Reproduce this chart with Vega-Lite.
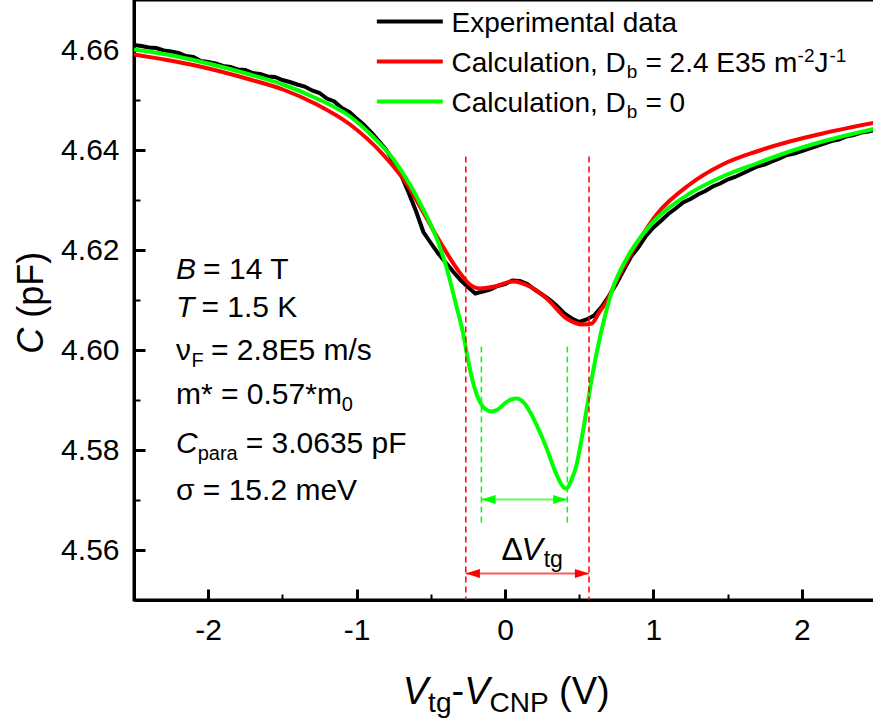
{
  "$schema": "https://vega.github.io/schema/vega-lite/v6.json",
  "width": 742,
  "height": 600,
  "autosize": "none",
  "padding": {"left": 134, "top": 0, "right": 0, "bottom": 119},
  "config": {
    "view": {"stroke": "black", "strokeWidth": 3},
    "font": "Liberation Sans",
    "axis": {"grid": false}
  },
  "resolve": {"axis": {"x": "independent", "y": "independent"}},
  "datasets": {
    "curves": [
      {"s":"exp","x":-2.5,"C":4.6610},{"s":"exp","x":-2.45,"C":4.6608},{"s":"exp","x":-2.4,"C":4.6605},{"s":"exp","x":-2.35,"C":4.6604},{"s":"exp","x":-2.3,"C":4.6599},{"s":"exp","x":-2.25,"C":4.6597},{"s":"exp","x":-2.2,"C":4.6594},{"s":"exp","x":-2.15,"C":4.6588},{"s":"exp","x":-2.1,"C":4.6586},{"s":"exp","x":-2.05,"C":4.6578},{"s":"exp","x":-2.0,"C":4.6576},{"s":"exp","x":-1.95,"C":4.6573},{"s":"exp","x":-1.9,"C":4.6568},{"s":"exp","x":-1.85,"C":4.6566},{"s":"exp","x":-1.8,"C":4.6561},{"s":"exp","x":-1.75,"C":4.6560},{"s":"exp","x":-1.7,"C":4.6554},{"s":"exp","x":-1.65,"C":4.6552},{"s":"exp","x":-1.6,"C":4.6547},{"s":"exp","x":-1.55,"C":4.6546},{"s":"exp","x":-1.5,"C":4.6540},{"s":"exp","x":-1.45,"C":4.6536},{"s":"exp","x":-1.4,"C":4.6531},{"s":"exp","x":-1.35,"C":4.6527},{"s":"exp","x":-1.3,"C":4.6519},{"s":"exp","x":-1.25,"C":4.6514},{"s":"exp","x":-1.2,"C":4.6503},{"s":"exp","x":-1.15,"C":4.6497},{"s":"exp","x":-1.1,"C":4.6484},{"s":"exp","x":-1.05,"C":4.6476},{"s":"exp","x":-1.0,"C":4.6463},{"s":"exp","x":-0.95,"C":4.6450},{"s":"exp","x":-0.9,"C":4.6435},{"s":"exp","x":-0.85,"C":4.6418},{"s":"exp","x":-0.8,"C":4.6400},{"s":"exp","x":-0.75,"C":4.6376},{"s":"exp","x":-0.7,"C":4.6350},{"s":"exp","x":-0.65,"C":4.6315},{"s":"exp","x":-0.6,"C":4.6278},{"s":"exp","x":-0.55,"C":4.6236},{"s":"exp","x":-0.5,"C":4.6214},{"s":"exp","x":-0.45,"C":4.6193},{"s":"exp","x":-0.4,"C":4.6175},{"s":"exp","x":-0.35,"C":4.6157},{"s":"exp","x":-0.3,"C":4.6140},{"s":"exp","x":-0.25,"C":4.6126},{"s":"exp","x":-0.2,"C":4.6113},{"s":"exp","x":-0.15,"C":4.6117},{"s":"exp","x":-0.1,"C":4.6121},{"s":"exp","x":-0.05,"C":4.6128},{"s":"exp","x":0.0,"C":4.6132},{"s":"exp","x":0.05,"C":4.6139},{"s":"exp","x":0.1,"C":4.6138},{"s":"exp","x":0.15,"C":4.6132},{"s":"exp","x":0.2,"C":4.6121},{"s":"exp","x":0.25,"C":4.6111},{"s":"exp","x":0.3,"C":4.6101},{"s":"exp","x":0.35,"C":4.6088},{"s":"exp","x":0.4,"C":4.6073},{"s":"exp","x":0.45,"C":4.6063},{"s":"exp","x":0.5,"C":4.6056},{"s":"exp","x":0.55,"C":4.6061},{"s":"exp","x":0.6,"C":4.6069},{"s":"exp","x":0.65,"C":4.6086},{"s":"exp","x":0.7,"C":4.6108},{"s":"exp","x":0.75,"C":4.6132},{"s":"exp","x":0.8,"C":4.6160},{"s":"exp","x":0.85,"C":4.6187},{"s":"exp","x":0.9,"C":4.6206},{"s":"exp","x":0.95,"C":4.6228},{"s":"exp","x":1.0,"C":4.6245},{"s":"exp","x":1.05,"C":4.6258},{"s":"exp","x":1.1,"C":4.6272},{"s":"exp","x":1.15,"C":4.6283},{"s":"exp","x":1.2,"C":4.6295},{"s":"exp","x":1.25,"C":4.6302},{"s":"exp","x":1.3,"C":4.6311},{"s":"exp","x":1.35,"C":4.6318},{"s":"exp","x":1.4,"C":4.6327},{"s":"exp","x":1.45,"C":4.6333},{"s":"exp","x":1.5,"C":4.6341},{"s":"exp","x":1.55,"C":4.6346},{"s":"exp","x":1.6,"C":4.6353},{"s":"exp","x":1.65,"C":4.6360},{"s":"exp","x":1.7,"C":4.6367},{"s":"exp","x":1.75,"C":4.6371},{"s":"exp","x":1.8,"C":4.6377},{"s":"exp","x":1.85,"C":4.6383},{"s":"exp","x":1.9,"C":4.6390},{"s":"exp","x":1.95,"C":4.6393},{"s":"exp","x":2.0,"C":4.6398},{"s":"exp","x":2.05,"C":4.6403},{"s":"exp","x":2.1,"C":4.6408},{"s":"exp","x":2.15,"C":4.6413},{"s":"exp","x":2.2,"C":4.6418},{"s":"exp","x":2.25,"C":4.6421},{"s":"exp","x":2.3,"C":4.6427},{"s":"exp","x":2.35,"C":4.6430},{"s":"exp","x":2.4,"C":4.6435},{"s":"exp","x":2.45,"C":4.6437},{"s":"exp","x":2.5,"C":4.6441},
      {"s":"db","x":-2.5,"C":4.6591},{"s":"db","x":-2.278,"C":4.6580},{"s":"db","x":-2.056,"C":4.6567},{"s":"db","x":-1.719,"C":4.6541},{"s":"db","x":-1.497,"C":4.6521},{"s":"db","x":-1.268,"C":4.6491},{"s":"db","x":-1.044,"C":4.6451},{"s":"db","x":-0.822,"C":4.6391},{"s":"db","x":-0.66,"C":4.6331},{"s":"db","x":-0.554,"C":4.6277},{"s":"db","x":-0.439,"C":4.6217},{"s":"db","x":-0.325,"C":4.6163},{"s":"db","x":-0.237,"C":4.6131},{"s":"db","x":-0.17,"C":4.6123},{"s":"db","x":-0.069,"C":4.6127},{"s":"db","x":0.052,"C":4.6137},{"s":"db","x":0.167,"C":4.6127},{"s":"db","x":0.281,"C":4.6103},{"s":"db","x":0.416,"C":4.6063},{"s":"db","x":0.524,"C":4.6051},{"s":"db","x":0.584,"C":4.6053},{"s":"db","x":0.638,"C":4.6077},{"s":"db","x":0.685,"C":4.6097},{"s":"db","x":0.739,"C":4.6131},{"s":"db","x":0.82,"C":4.6177},{"s":"db","x":0.907,"C":4.6221},{"s":"db","x":1.022,"C":4.6271},{"s":"db","x":1.244,"C":4.6331},{"s":"db","x":1.466,"C":4.6371},{"s":"db","x":1.695,"C":4.6397},{"s":"db","x":1.918,"C":4.6417},{"s":"db","x":2.14,"C":4.6433},{"s":"db","x":2.5,"C":4.6455},
      {"s":"d0","x":-2.5,"C":4.6601},{"s":"d0","x":-2.278,"C":4.6591},{"s":"d0","x":-2.056,"C":4.6577},{"s":"d0","x":-1.719,"C":4.6551},{"s":"d0","x":-1.497,"C":4.6531},{"s":"d0","x":-1.268,"C":4.6503},{"s":"d0","x":-1.044,"C":4.6467},{"s":"d0","x":-0.891,"C":4.6427},{"s":"d0","x":-0.756,"C":4.6383},{"s":"d0","x":-0.641,"C":4.6331},{"s":"d0","x":-0.554,"C":4.6283},{"s":"d0","x":-0.46,"C":4.6223},{"s":"d0","x":-0.392,"C":4.6163},{"s":"d0","x":-0.352,"C":4.6117},{"s":"d0","x":-0.318,"C":4.6077},{"s":"d0","x":-0.285,"C":4.6037},{"s":"d0","x":-0.251,"C":4.5983},{"s":"d0","x":-0.217,"C":4.5937},{"s":"d0","x":-0.183,"C":4.5905},{"s":"d0","x":-0.15,"C":4.5887},{"s":"d0","x":-0.116,"C":4.5879},{"s":"d0","x":-0.089,"C":4.5877},{"s":"d0","x":-0.049,"C":4.5881},{"s":"d0","x":-0.002,"C":4.5893},{"s":"d0","x":0.039,"C":4.5901},{"s":"d0","x":0.079,"C":4.5903},{"s":"d0","x":0.126,"C":4.5895},{"s":"d0","x":0.167,"C":4.5877},{"s":"d0","x":0.227,"C":4.5841},{"s":"d0","x":0.281,"C":4.5803},{"s":"d0","x":0.328,"C":4.5765},{"s":"d0","x":0.369,"C":4.5737},{"s":"d0","x":0.396,"C":4.5725},{"s":"d0","x":0.416,"C":4.5723},{"s":"d0","x":0.443,"C":4.5737},{"s":"d0","x":0.483,"C":4.5771},{"s":"d0","x":0.517,"C":4.5823},{"s":"d0","x":0.551,"C":4.5883},{"s":"d0","x":0.591,"C":4.5953},{"s":"d0","x":0.638,"C":4.6023},{"s":"d0","x":0.685,"C":4.6081},{"s":"d0","x":0.726,"C":4.6123},{"s":"d0","x":0.82,"C":4.6183},{"s":"d0","x":0.907,"C":4.6223},{"s":"d0","x":1.022,"C":4.6263},{"s":"d0","x":1.244,"C":4.6313},{"s":"d0","x":1.466,"C":4.6347},{"s":"d0","x":1.695,"C":4.6373},{"s":"d0","x":1.918,"C":4.6397},{"s":"d0","x":2.14,"C":4.6417},{"s":"d0","x":2.497,"C":4.6443}
    ],
    "legendLines": [
      {"s":"exp","x1":-0.8636,"x2":-0.4192,"y":4.6657},
      {"s":"db","x1":-0.8636,"x2":-0.4192,"y":4.6577},
      {"s":"d0","x1":-0.8636,"x2":-0.4192,"y":4.6497}
    ],
    "vlines": [
      {"s":"db","x":-0.264,"y1":4.6387,"y2":4.55},
      {"s":"db","x":0.566,"y1":4.6387,"y2":4.55},
      {"s":"d0","x":-0.159,"y1":4.6007,"y2":4.5653},
      {"s":"d0","x":0.42,"y1":4.6007,"y2":4.5653}
    ],
    "shafts": [
      {"s":"d0","x1":-0.159,"x2":0.42,"y":4.5701},
      {"s":"db","x1":-0.264,"x2":0.566,"y":4.5553}
    ],
    "headsLeft": [
      {"s":"d0","x":-0.1114,"y":4.5701},
      {"s":"db","x":-0.2164,"y":4.5553}
    ],
    "headsRight": [
      {"s":"d0","x":0.3724,"y":4.5701},
      {"s":"db","x":0.5184,"y":4.5553}
    ],
    "txtLegend": [
      {"x":-0.3606,"y":4.66366,"t":"Experimental data"},
      {"x":-0.3606,"y":4.65566,"t":"Calculation, D"},
      {"x":0.9467,"y":4.65566,"t":"= 2.4 E35 m"},
      {"x":2.0859,"y":4.65566,"t":"J"},
      {"x":-0.3606,"y":4.64766,"t":"Calculation, D"},
      {"x":0.9467,"y":4.64766,"t":"= 0"}
    ],
    "txtNormal": [
      {"x":-2.0342,"y":4.61426,"t":"= 14 T"},
      {"x":-2.0459,"y":4.60666,"t":"= 1.5 K"},
      {"x":-2.2171,"y":4.59806,"t":"ν"},
      {"x":-1.9815,"y":4.59806,"t":"= 2.8E5 m/s"},
      {"x":-2.2171,"y":4.58926,"t":"m* = 0.57*m"},
      {"x":-1.7475,"y":4.57946,"t":"= 3.0635 pF"},
      {"x":-2.2171,"y":4.57006,"t":"σ = 15.2 meV"}
    ],
    "txtItalic": [
      {"x":-2.2171,"y":4.61426,"t":"B"},
      {"x":-2.2171,"y":4.60666,"t":"T"},
      {"x":-2.2171,"y":4.57946,"t":"C"}
    ],
    "txtSmall": [
      {"x":-2.1121,"y":4.59666,"t":"F"},
      {"x":-1.1,"y":4.58786,"t":"0"},
      {"x":-2.0712,"y":4.57806,"t":"para"}
    ],
    "txtLegendSmall": [
      {"x":0.8199,"y":4.65446,"t":"b"},
      {"x":0.8199,"y":4.64646,"t":"b"},
      {"x":1.9714,"y":4.65766,"t":"-2"},
      {"x":2.1869,"y":4.65766,"t":"-1"}
    ],
    "deltaNormal": [
      {"x":-0.0239,"y":4.55806,"t":"Δ"}
    ],
    "deltaItalic": [
      {"x":0.1108,"y":4.55806,"t":"V"}
    ],
    "deltaSub": [
      {"x":0.2605,"y":4.55666,"t":"tg"}
    ],
    "titleNormal": [
      {"x":-0.3606,"y":4.52926,"t":"-"},
      {"x":0.3645,"y":4.52926,"t":"(V)"}
    ],
    "titleItalic": [
      {"x":-0.6886,"y":4.52926,"t":"V"},
      {"x":-0.2751,"y":4.52926,"t":"V"}
    ],
    "titleSub": [
      {"x":-0.5182,"y":4.52766,"t":"tg"},
      {"x":-0.1047,"y":4.52766,"t":"CNP"}
    ],
    "yTitleItalic": [
      {"x":-3.1128,"y":4.59926,"t":"C"}
    ],
    "yTitleNormal": [
      {"x":-3.1128,"y":4.60646,"t":"(pF)"}
    ]
  },
  "layer": [
    {
      "data": {"name": "curves"},
      "transform": [{"filter": "datum.s === 'exp'"}],
      "mark": {"type": "line", "strokeWidth": 4, "clip": true},
      "encoding": {
        "x": {"field": "x", "type": "quantitative",
          "scale": {"domain": [-2.5, 2.5], "nice": false, "zero": false},
          "axis": {
            "orient": "bottom",
            "values": [-2, -1, 0, 1, 2],
            "labelExpr": "'' + datum.value",
            "title": null,
            "domainColor": "black", "domainWidth": 3,
            "tickColor": "black", "tickSize": -11, "tickWidth": 3,
            "labelFont": "Liberation Sans", "labelFontSize": 30, "labelColor": "black",
            "labelPadding": 26, "labelFlush": false, "labelOverlap": false
          }},
        "y": {"field": "C", "type": "quantitative",
          "scale": {"domain": [4.55, 4.67], "nice": false, "zero": false},
          "axis": {
            "orient": "left",
            "values": [4.56, 4.58, 4.60, 4.62, 4.64, 4.66],
            "format": ".2f",
            "title": null,
            "domainColor": "black", "domainWidth": 3,
            "tickColor": "black", "tickSize": -11, "tickWidth": 3,
            "labelFont": "Liberation Sans", "labelFontSize": 30, "labelColor": "black",
            "labelPadding": 26, "labelFlush": false, "labelOverlap": false
          }},
        "color": {"field": "s", "type": "nominal", "legend": null,
          "scale": {"domain": ["exp", "db", "d0"], "range": ["#000000", "#ff0000", "#00ff00"]}}
      }
    },
    {
      "data": {"name": "curves"},
      "transform": [{"filter": "datum.s === 'db'"}],
      "mark": {"type": "line", "strokeWidth": 4, "interpolate": "monotone", "clip": true},
      "encoding": {
        "x": {"field": "x", "type": "quantitative", "scale": {"domain": [-2.5, 2.5], "nice": false, "zero": false},
          "axis": {
            "orient": "bottom",
            "values": [-1.5, -0.5, 0.5, 1.5],
            "labels": false, "domain": false, "title": null,
            "tickColor": "black", "tickSize": -6, "tickWidth": 2
          }},
        "y": {"field": "C", "type": "quantitative", "scale": {"domain": [4.55, 4.67], "nice": false, "zero": false},
          "axis": {
            "orient": "left",
            "values": [4.57, 4.59, 4.61, 4.63, 4.65],
            "labels": false, "domain": false, "title": null,
            "tickColor": "black", "tickSize": -6, "tickWidth": 2
          }},
        "color": {"field": "s", "type": "nominal", "legend": null}
      }
    },
    {
      "data": {"name": "curves"},
      "transform": [{"filter": "datum.s === 'd0'"}],
      "mark": {"type": "line", "strokeWidth": 4, "interpolate": "monotone", "clip": true},
      "encoding": {
        "x": {"field": "x", "type": "quantitative", "scale": {"domain": [-2.5, 2.5], "nice": false, "zero": false}, "axis": null},
        "y": {"field": "C", "type": "quantitative", "scale": {"domain": [4.55, 4.67], "nice": false, "zero": false}, "axis": null},
        "color": {"field": "s", "type": "nominal", "legend": null}
      }
    },
    {
      "data": {"name": "vlines"},
      "mark": {"type": "rule", "strokeWidth": 1.5, "strokeDash": [6, 4]},
      "encoding": {
        "x": {"field": "x", "type": "quantitative", "scale": {"domain": [-2.5, 2.5], "nice": false, "zero": false}, "axis": null},
        "y": {"field": "y1", "type": "quantitative", "scale": {"domain": [4.55, 4.67], "nice": false, "zero": false}, "axis": null},
        "y2": {"field": "y2"},
        "color": {"field": "s", "type": "nominal", "legend": null}
      }
    },
    {
      "data": {"name": "shafts"},
      "mark": {"type": "rule", "strokeWidth": 2, "opacity": 0.65},
      "encoding": {
        "x": {"field": "x1", "type": "quantitative", "scale": {"domain": [-2.5, 2.5], "nice": false, "zero": false}, "axis": null},
        "x2": {"field": "x2"},
        "y": {"field": "y", "type": "quantitative", "scale": {"domain": [4.55, 4.67], "nice": false, "zero": false}, "axis": null},
        "color": {"field": "s", "type": "nominal", "legend": null}
      }
    },
    {
      "data": {"name": "headsLeft"},
      "mark": {"type": "point", "filled": true, "opacity": 1, "size": 200, "shape": "M -1 0 L 1 -0.65 L 1 0.65 Z"},
      "encoding": {
        "x": {"field": "x", "type": "quantitative", "scale": {"domain": [-2.5, 2.5], "nice": false, "zero": false}, "axis": null},
        "y": {"field": "y", "type": "quantitative", "scale": {"domain": [4.55, 4.67], "nice": false, "zero": false}, "axis": null},
        "color": {"field": "s", "type": "nominal", "legend": null}
      }
    },
    {
      "data": {"name": "headsRight"},
      "mark": {"type": "point", "filled": true, "opacity": 1, "size": 200, "shape": "M 1 0 L -1 -0.65 L -1 0.65 Z"},
      "encoding": {
        "x": {"field": "x", "type": "quantitative", "scale": {"domain": [-2.5, 2.5], "nice": false, "zero": false}, "axis": null},
        "y": {"field": "y", "type": "quantitative", "scale": {"domain": [4.55, 4.67], "nice": false, "zero": false}, "axis": null},
        "color": {"field": "s", "type": "nominal", "legend": null}
      }
    },
    {
      "data": {"name": "legendLines"},
      "mark": {"type": "rule", "strokeWidth": 4},
      "encoding": {
        "x": {"field": "x1", "type": "quantitative", "scale": {"domain": [-2.5, 2.5], "nice": false, "zero": false}, "axis": null},
        "x2": {"field": "x2"},
        "y": {"field": "y", "type": "quantitative", "scale": {"domain": [4.55, 4.67], "nice": false, "zero": false}, "axis": null},
        "color": {"field": "s", "type": "nominal", "legend": null}
      }
    },
    {
      "data": {"name": "txtLegend"},
      "mark": {"type": "text", "align": "left", "baseline": "alphabetic", "font": "Liberation Sans", "fontSize": 28, "color": "black"},
      "encoding": {
        "x": {"field": "x", "type": "quantitative", "scale": {"domain": [-2.5, 2.5], "nice": false, "zero": false}, "axis": null},
        "y": {"field": "y", "type": "quantitative", "scale": {"domain": [4.55, 4.67], "nice": false, "zero": false}, "axis": null},
        "text": {"field": "t"}
      }
    },
    {
      "data": {"name": "txtLegendSmall"},
      "mark": {"type": "text", "align": "left", "baseline": "alphabetic", "font": "Liberation Sans", "fontSize": 19, "color": "black"},
      "encoding": {
        "x": {"field": "x", "type": "quantitative", "scale": {"domain": [-2.5, 2.5], "nice": false, "zero": false}, "axis": null},
        "y": {"field": "y", "type": "quantitative", "scale": {"domain": [4.55, 4.67], "nice": false, "zero": false}, "axis": null},
        "text": {"field": "t"}
      }
    },
    {
      "data": {"name": "txtNormal"},
      "mark": {"type": "text", "align": "left", "baseline": "alphabetic", "font": "Liberation Sans", "fontSize": 30, "color": "black"},
      "encoding": {
        "x": {"field": "x", "type": "quantitative", "scale": {"domain": [-2.5, 2.5], "nice": false, "zero": false}, "axis": null},
        "y": {"field": "y", "type": "quantitative", "scale": {"domain": [4.55, 4.67], "nice": false, "zero": false}, "axis": null},
        "text": {"field": "t"}
      }
    },
    {
      "data": {"name": "txtItalic"},
      "mark": {"type": "text", "align": "left", "baseline": "alphabetic", "font": "Liberation Sans", "fontSize": 30, "fontStyle": "italic", "color": "black"},
      "encoding": {
        "x": {"field": "x", "type": "quantitative", "scale": {"domain": [-2.5, 2.5], "nice": false, "zero": false}, "axis": null},
        "y": {"field": "y", "type": "quantitative", "scale": {"domain": [4.55, 4.67], "nice": false, "zero": false}, "axis": null},
        "text": {"field": "t"}
      }
    },
    {
      "data": {"name": "txtSmall"},
      "mark": {"type": "text", "align": "left", "baseline": "alphabetic", "font": "Liberation Sans", "fontSize": 20, "color": "black"},
      "encoding": {
        "x": {"field": "x", "type": "quantitative", "scale": {"domain": [-2.5, 2.5], "nice": false, "zero": false}, "axis": null},
        "y": {"field": "y", "type": "quantitative", "scale": {"domain": [4.55, 4.67], "nice": false, "zero": false}, "axis": null},
        "text": {"field": "t"}
      }
    },
    {
      "data": {"name": "deltaNormal"},
      "mark": {"type": "text", "align": "left", "baseline": "alphabetic", "font": "Liberation Sans", "fontSize": 32, "color": "black"},
      "encoding": {
        "x": {"field": "x", "type": "quantitative", "scale": {"domain": [-2.5, 2.5], "nice": false, "zero": false}, "axis": null},
        "y": {"field": "y", "type": "quantitative", "scale": {"domain": [4.55, 4.67], "nice": false, "zero": false}, "axis": null},
        "text": {"field": "t"}
      }
    },
    {
      "data": {"name": "deltaItalic"},
      "mark": {"type": "text", "align": "left", "baseline": "alphabetic", "font": "Liberation Sans", "fontSize": 32, "fontStyle": "italic", "color": "black"},
      "encoding": {
        "x": {"field": "x", "type": "quantitative", "scale": {"domain": [-2.5, 2.5], "nice": false, "zero": false}, "axis": null},
        "y": {"field": "y", "type": "quantitative", "scale": {"domain": [4.55, 4.67], "nice": false, "zero": false}, "axis": null},
        "text": {"field": "t"}
      }
    },
    {
      "data": {"name": "deltaSub"},
      "mark": {"type": "text", "align": "left", "baseline": "alphabetic", "font": "Liberation Sans", "fontSize": 23, "color": "black"},
      "encoding": {
        "x": {"field": "x", "type": "quantitative", "scale": {"domain": [-2.5, 2.5], "nice": false, "zero": false}, "axis": null},
        "y": {"field": "y", "type": "quantitative", "scale": {"domain": [4.55, 4.67], "nice": false, "zero": false}, "axis": null},
        "text": {"field": "t"}
      }
    },
    {
      "data": {"name": "titleNormal"},
      "mark": {"type": "text", "align": "left", "baseline": "alphabetic", "font": "Liberation Sans", "fontSize": 38, "color": "black"},
      "encoding": {
        "x": {"field": "x", "type": "quantitative", "scale": {"domain": [-2.5, 2.5], "nice": false, "zero": false}, "axis": null},
        "y": {"field": "y", "type": "quantitative", "scale": {"domain": [4.55, 4.67], "nice": false, "zero": false}, "axis": null},
        "text": {"field": "t"}
      }
    },
    {
      "data": {"name": "titleItalic"},
      "mark": {"type": "text", "align": "left", "baseline": "alphabetic", "font": "Liberation Sans", "fontSize": 38, "fontStyle": "italic", "color": "black"},
      "encoding": {
        "x": {"field": "x", "type": "quantitative", "scale": {"domain": [-2.5, 2.5], "nice": false, "zero": false}, "axis": null},
        "y": {"field": "y", "type": "quantitative", "scale": {"domain": [4.55, 4.67], "nice": false, "zero": false}, "axis": null},
        "text": {"field": "t"}
      }
    },
    {
      "data": {"name": "titleSub"},
      "mark": {"type": "text", "align": "left", "baseline": "alphabetic", "font": "Liberation Sans", "fontSize": 28, "color": "black"},
      "encoding": {
        "x": {"field": "x", "type": "quantitative", "scale": {"domain": [-2.5, 2.5], "nice": false, "zero": false}, "axis": null},
        "y": {"field": "y", "type": "quantitative", "scale": {"domain": [4.55, 4.67], "nice": false, "zero": false}, "axis": null},
        "text": {"field": "t"}
      }
    },
    {
      "data": {"name": "yTitleItalic"},
      "mark": {"type": "text", "align": "left", "baseline": "alphabetic", "angle": 270, "font": "Liberation Sans", "fontSize": 36, "fontStyle": "italic", "color": "black"},
      "encoding": {
        "x": {"field": "x", "type": "quantitative", "scale": {"domain": [-2.5, 2.5], "nice": false, "zero": false}, "axis": null},
        "y": {"field": "y", "type": "quantitative", "scale": {"domain": [4.55, 4.67], "nice": false, "zero": false}, "axis": null},
        "text": {"field": "t"}
      }
    },
    {
      "data": {"name": "yTitleNormal"},
      "mark": {"type": "text", "align": "left", "baseline": "alphabetic", "angle": 270, "font": "Liberation Sans", "fontSize": 36, "color": "black"},
      "encoding": {
        "x": {"field": "x", "type": "quantitative", "scale": {"domain": [-2.5, 2.5], "nice": false, "zero": false}, "axis": null},
        "y": {"field": "y", "type": "quantitative", "scale": {"domain": [4.55, 4.67], "nice": false, "zero": false}, "axis": null},
        "text": {"field": "t"}
      }
    }
  ]
}
